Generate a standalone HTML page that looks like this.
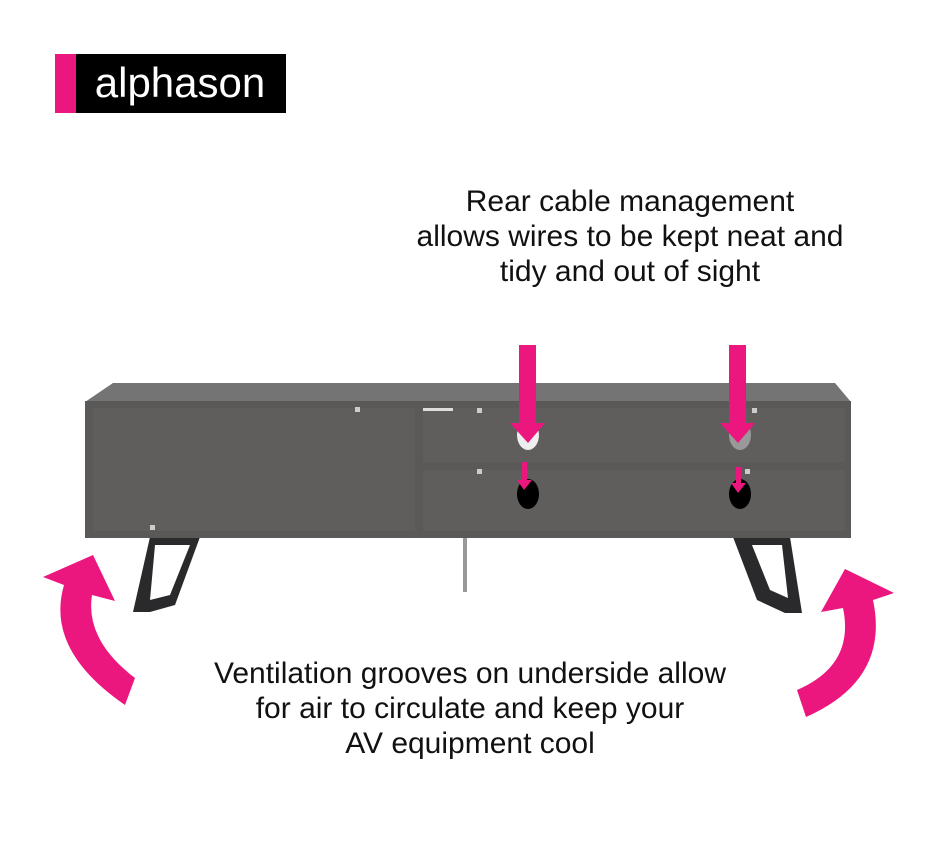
<!DOCTYPE html>
<html><head><meta charset="utf-8"><style>
html,body{margin:0;padding:0;background:#fff;}
body{width:938px;height:868px;position:relative;overflow:hidden;font-family:"Liberation Sans",sans-serif;}
.t{position:absolute;text-align:center;color:#111;font-size:30px;line-height:35px;}
</style></head><body>
<svg width="938" height="868" style="position:absolute;left:0;top:0">
<rect x="55" y="54" width="231" height="59" fill="#000"/>
<rect x="55" y="54" width="21" height="59" fill="#ec167f"/>
<text x="180" y="97" text-anchor="middle" font-family="Liberation Sans,sans-serif" font-size="42" fill="#fff">alphason</text>
<polygon points="150,537 200,537 175,605 150,612 133,612" fill="#2a2a2c"/>
<polygon points="155,545 190,545 170,595 150,600" fill="#fff"/>
<polygon points="733,537 790,537 802,613 785,613 757,600" fill="#2a2a2c"/>
<polygon points="752,545 782,545 788,598 770,590" fill="#fff"/>
<rect x="463" y="537" width="4" height="55" fill="#999"/>
<polygon points="85,402 113,383 835,383 851,402" fill="#757474"/>
<rect x="85" y="401" width="766" height="137" fill="#5b5958"/>
<rect x="93" y="408" width="322" height="123" fill="#605e5d"/>
<rect x="423" y="408" width="422" height="54" fill="#605e5d"/>
<rect x="423" y="470" width="422" height="61" fill="#605e5d"/>
<rect x="423" y="408" width="30" height="3" fill="#ddd"/>
<rect x="355" y="407" width="5" height="5" fill="#ccc"/>
<rect x="477" y="408" width="5" height="5" fill="#ccc"/>
<rect x="752" y="408" width="5" height="5" fill="#ccc"/>
<rect x="477" y="469" width="5" height="5" fill="#ccc"/>
<rect x="745" y="469" width="5" height="5" fill="#ccc"/>
<rect x="150" y="525" width="5" height="5" fill="#ccc"/>
<ellipse cx="528" cy="435" rx="11" ry="15" fill="#eee"/>
<ellipse cx="740" cy="435" rx="11" ry="15" fill="#999"/>
<ellipse cx="528" cy="494" rx="11" ry="15" fill="#000"/>
<ellipse cx="740" cy="494" rx="11" ry="15" fill="#000"/>
<g fill="#ec167f">
<rect x="519" y="345" width="17" height="80"/><polygon points="510,423 545,423 528,443"/>
<rect x="729" y="345" width="17" height="80"/><polygon points="720,423 755,423 738,443"/>
<rect x="522" y="462" width="5" height="20"/><polygon points="517,480 532,480 524,490"/>
<rect x="736" y="467" width="5" height="18"/><polygon points="731,483 746,483 738,493"/>
<path d="M93,555 L43,577 L64,585 Q45,650 125,705 L135,678 Q85,640 92,595 L115,601 Z"/>
<path d="M845,569 L894,593 L873,600 Q890,680 806,717 L797,690 Q855,665 843,608 L821,612 Z"/>
</g>
</svg>
<div class="t" style="left:330px;top:184px;width:600px;">Rear cable management<br>allows wires to be kept neat and<br>tidy and out of sight</div>
<div class="t" style="left:120px;top:656px;width:700px;">Ventilation grooves on underside allow<br>for air to circulate and keep your<br>AV equipment cool</div>
</body></html>
